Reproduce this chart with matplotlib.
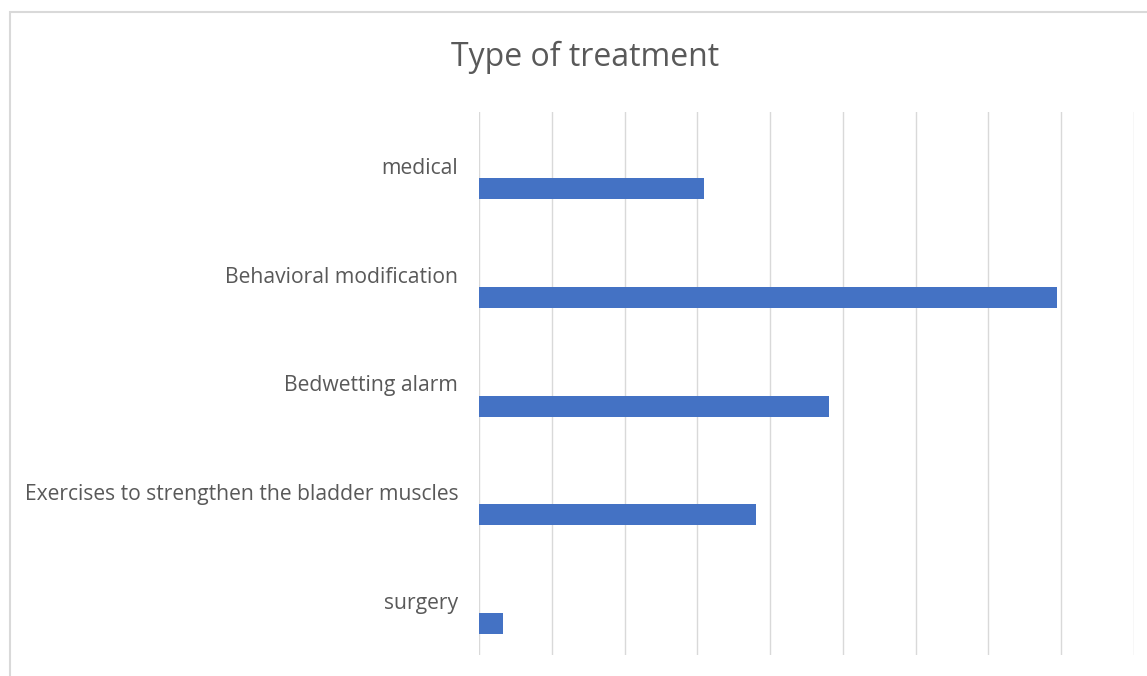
import matplotlib
matplotlib.use("Agg")
import matplotlib.pyplot as plt
from matplotlib.patches import Rectangle
import numpy as np

# values (one gridline step = 10)
categories = ["medical", "Behavioral modification", "Bedwetting alarm",
              "Exercises to strengthen the bladder muscles", "surgery"]
values = [30.9, 79.4, 48.1, 38.0, 3.3]

W, H = 1147, 676
fig = plt.figure(figsize=(W / 100, H / 100), dpi=100)
fig.patch.set_facecolor("white")

# chart border (cropped on the right and bottom)
fig.patches.append(Rectangle((10 / W, -0.1), 1.2, (H - 12) / H + 0.1,
                             transform=fig.transFigure, fill=False,
                             edgecolor="#d9d9d9", linewidth=1.5))

ax = fig.add_axes([479 / W, (H - 655) / H, (1134 - 479) / W, (655 - 112) / H])

y = np.arange(len(categories))
bar_h = 21 / 108.6
offset = 22.5 / 108.6
ax.barh(y + offset, values, height=bar_h, color="#4472C4", zorder=3)

ax.set_xlim(0, 90)
ax.set_ylim(len(categories) - 0.5, -0.5)
ax.set_xticks(np.arange(0, 91, 10))
ax.set_xticklabels([])
ax.tick_params(axis="x", length=0)
ax.grid(axis="x", color="#d9d9d9", linewidth=1.0, zorder=0)

ax.set_yticks(y)
ax.set_yticklabels(categories, fontsize=15.2, color="#595959", family="Open Sans")
ax.tick_params(axis="y", length=0, pad=15)

for s in ax.spines.values():
    s.set_visible(False)

fig.text(585 / W, 1 - 57 / H, "Type of treatment", ha="center", va="center",
         fontsize=23, color="#595959", family="Open Sans")

fig.savefig("out.png", dpi=100)
